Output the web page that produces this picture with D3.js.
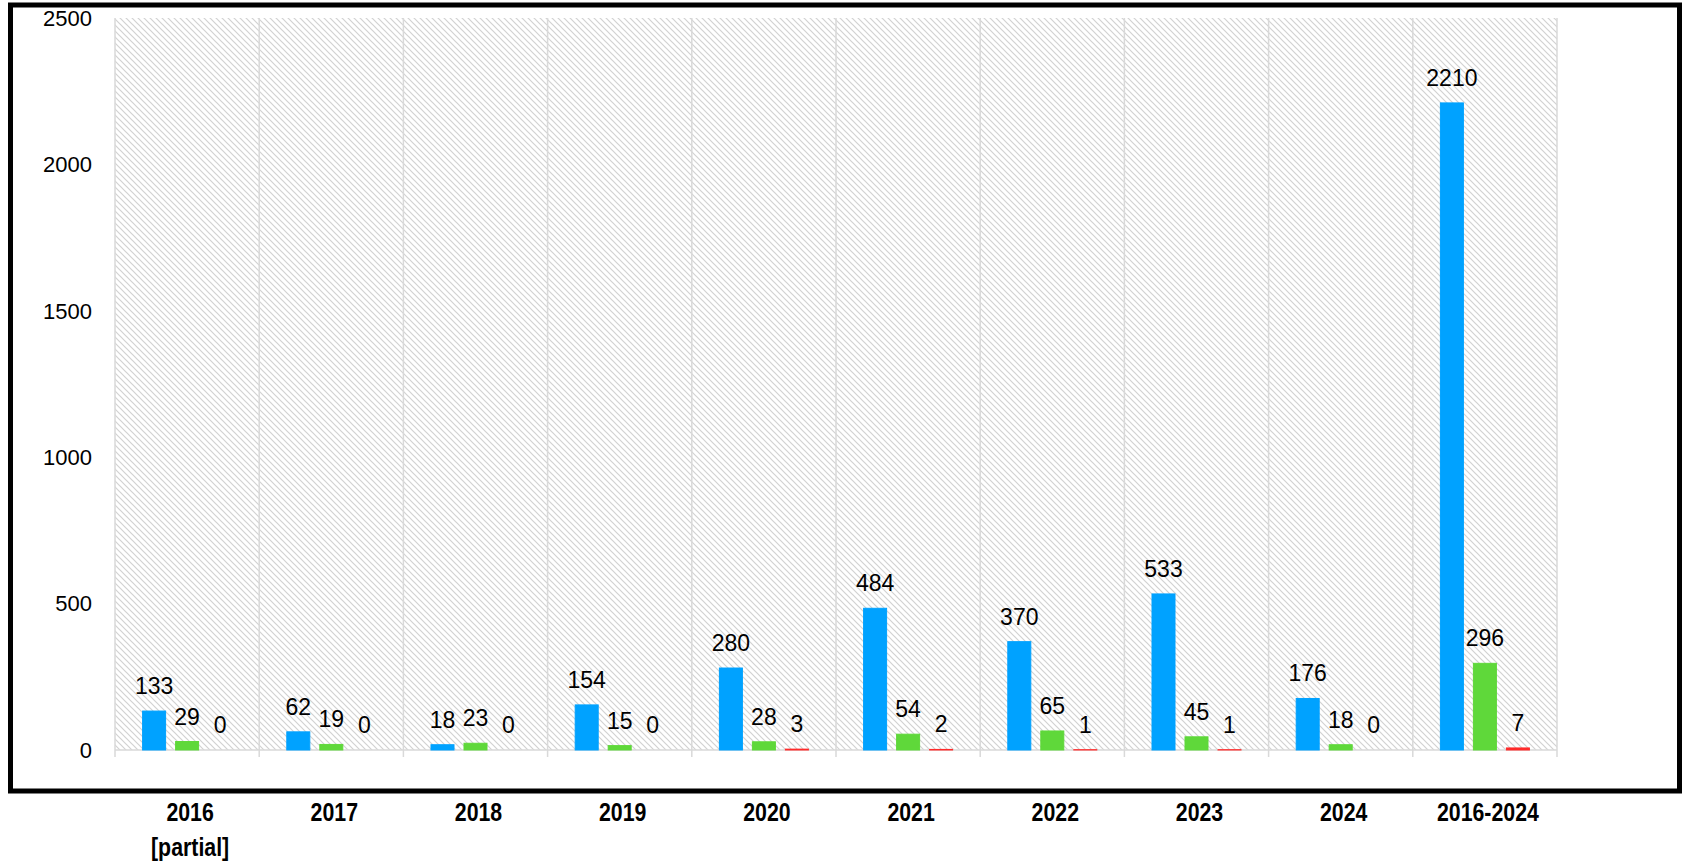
<!DOCTYPE html>
<html>
<head>
<meta charset="utf-8">
<script src="https://cdn.jsdelivr.net/npm/d3@7"></script>
<style>
  body { margin: 0; background: #fff; }
  svg { display: block; }
</style>
</head>
<body>
<script>
var categories = ["2016|[partial]", "2017", "2018", "2019", "2020", "2021", "2022", "2023", "2024", "2016-2024"];
var blueValues = [133, 62, 18, 154, 280, 484, 370, 533, 176, 2210];
var greenValues = [29, 19, 23, 15, 28, 54, 65, 45, 18, 296];
var redValues = [0, 0, 0, 0, 3, 2, 1, 1, 0, 7];
var yTicks = [0, 500, 1000, 1500, 2000, 2500];

var series = [
  {name: "blue", values: blueValues, color: "#00a2ff"},
  {name: "green", values: greenValues, color: "#5fd83a"},
  {name: "red", values: redValues, color: "#ff2a2a"}
];

var W = 1691, H = 862;
// plot area edges (note: "top" is reserved on window, so use plot*)
var plotL = 115, plotR = 1557, plotT = 18, plotB = 750;

var svg = d3.select("body")
  .append("svg")
    .attr("width", W)
    .attr("height", H);

// diagonal hatch for plot background
var defs = svg.append("defs");
var pat = defs.append("pattern")
    .attr("id", "hatch")
    .attr("patternUnits", "userSpaceOnUse")
    .attr("width", 6)
    .attr("height", 6);
pat.append("rect").attr("width", 6).attr("height", 6).attr("fill", "#fff");
pat.append("path")
    .attr("d", "M-1,-1 L7,7 M-1,5 L1,7 M5,-1 L7,1")
    .attr("stroke", "#d2d2d2")
    .attr("stroke-width", 1.2);

// outer frame
svg.append("rect")
    .attr("x", 10.5)
    .attr("y", 5)
    .attr("width", 1669)
    .attr("height", 786)
    .attr("fill", "none")
    .attr("stroke", "#000")
    .attr("stroke-width", 5);

var x = d3.scaleBand()
    .domain(categories)
    .range([plotL, plotR]);

var y = d3.scaleLinear()
    .domain([0, 2500])
    .range([plotB, plotT]);

var barW = 23, gap = 10;
var inner = d3.scaleBand()
    .domain(series.map(function(s) { return s.name; }))
    .range([0, 3 * barW + 2 * gap])
    .paddingInner(gap / (barW + gap));
var offset = (x.bandwidth() - (3 * barW + 2 * gap)) / 2;

svg.append("rect")
    .attr("x", plotL)
    .attr("y", plotT)
    .attr("width", plotR - plotL)
    .attr("height", plotB - plotT)
    .attr("fill", "url(#hatch)");

// vertical category dividers + ticks
var divs = d3.range(categories.length + 1).map(function(i) { return plotL + i * x.bandwidth(); });
svg.selectAll("line.div")
    .data(divs)
  .enter().append("line")
    .attr("class", "div")
    .attr("x1", function(d) { return d; })
    .attr("x2", function(d) { return d; })
    .attr("y1", plotT)
    .attr("y2", plotB + 7)
    .attr("stroke", "#d9d9d9")
    .attr("stroke-width", 1.5);

svg.append("line")
    .attr("x1", plotL)
    .attr("x2", plotR)
    .attr("y1", plotB)
    .attr("y2", plotB)
    .attr("stroke", "#d9d9d9")
    .attr("stroke-width", 1.5);

// y tick labels
svg.selectAll("text.ytick")
    .data(yTicks)
  .enter().append("text")
    .attr("class", "ytick")
    .attr("x", 92)
    .attr("y", function(d) { return y(d); })
    .attr("dy", "0.35em")
    .attr("text-anchor", "end")
    .style("font-family", "Liberation Sans, Arial, sans-serif")
    .style("font-size", "22px")
    .style("fill", "#000")
    .text(function(d) { return d; });

// bars
series.forEach(function(s) {
  var g = svg.append("g");
  g.selectAll("rect")
      .data(s.values)
    .enter().append("rect")
      .attr("x", function(d, i) { return x(categories[i]) + offset + inner(s.name); })
      .attr("y", function(d) { return y(d); })
      .attr("width", inner.bandwidth())
      .attr("height", function(d) { return plotB - y(d); })
      .attr("fill", s.color)
      // tiny nonzero bars still show as a thin line
      .attr("stroke", function(d) { return d > 0 ? s.color : "none"; })
      .attr("stroke-width", 1);
  g.selectAll("text")
      .data(s.values)
    .enter().append("text")
      .attr("x", function(d, i) { return x(categories[i]) + offset + inner(s.name) + inner.bandwidth() / 2; })
      .attr("y", function(d) { return y(d) - 17; })
      .attr("text-anchor", "middle")
      .style("font-family", "Liberation Sans, Arial, sans-serif")
      .style("font-size", "23px")
      .style("fill", "#000")
      .text(function(d) { return d; });
});

// x category labels (narrow bold: squeeze horizontally)
var xl = svg.selectAll("g.xlab")
    .data(categories)
  .enter().append("g")
    .attr("class", "xlab")
    .attr("transform", function(d) { return "translate(" + (x(d) + x.bandwidth() / 2 + 3) + ",821) scale(0.82,1)"; })
  .append("text")
    .attr("text-anchor", "middle")
    .style("font-family", "Liberation Sans, Arial, sans-serif")
    .style("font-weight", "bold")
    .style("font-size", "26px")
    .style("fill", "#000");
xl.each(function(d) {
  var parts = d.split("|");
  var t = d3.select(this);
  parts.forEach(function(p, i) {
    t.append("tspan")
        .attr("x", 0)
        .attr("dy", i === 0 ? 0 : 35)
        .text(p);
  });
});
</script>
</body>
</html>
